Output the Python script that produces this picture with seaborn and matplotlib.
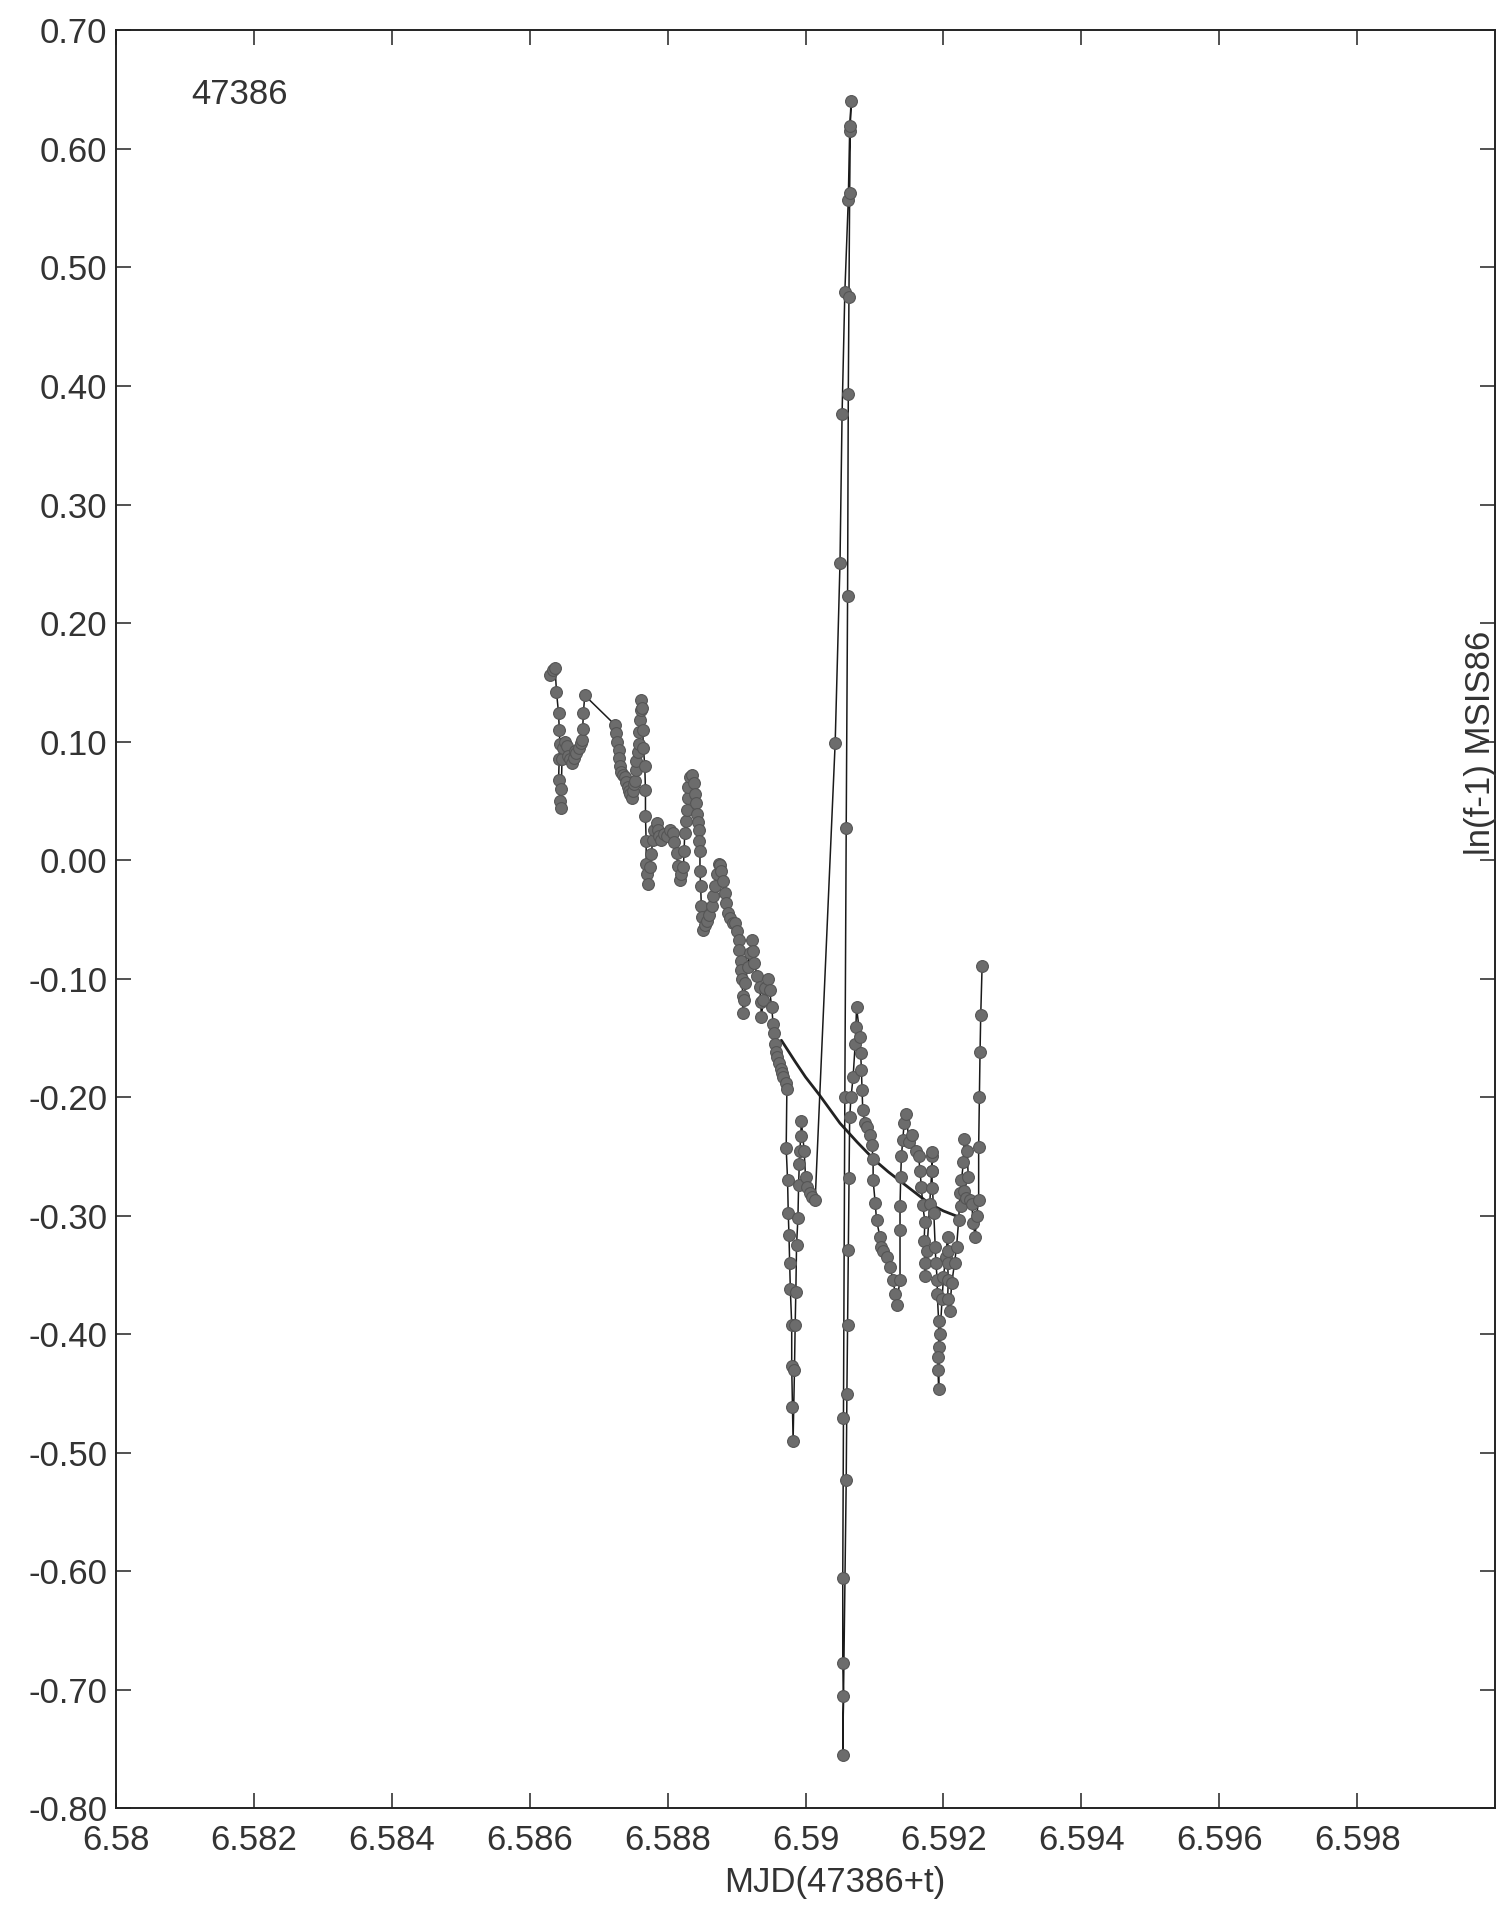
import numpy as np
import pandas as pd
import matplotlib
matplotlib.use('Agg')
import matplotlib.pyplot as plt
import seaborn as sns

# measured series (MJD offset from 47386, ln(f-1))
t = [6.58630, 6.58634, 6.58637, 6.58639, 6.58642, 6.58643, 6.58644, 6.58643, 6.58642, 6.58644,
     6.58645, 6.58646, 6.58647, 6.58649, 6.58651, 6.58654, 6.58656, 6.58658, 6.58661, 6.58664,
     6.58666, 6.58668, 6.58671, 6.58674, 6.58676, 6.58677, 6.58678, 6.58680,
     6.58724, 6.58726, 6.58727, 6.58729, 6.58730, 6.58731, 6.58733, 6.58735, 6.58738, 6.58740,
     6.58742, 6.58744, 6.58746, 6.58748, 6.58750, 6.58752, 6.58753, 6.58754, 6.58755, 6.58757,
     6.58758, 6.58759, 6.58760, 6.58761, 6.58762, 6.58763, 6.58764, 6.58765, 6.58767, 6.58768,
     6.58768, 6.58769, 6.58769, 6.58770, 6.58772, 6.58774, 6.58776, 6.58779, 6.58781, 6.58784,
     6.58786, 6.58788, 6.58791, 6.58795, 6.58799, 6.58803, 6.58808, 6.58810, 6.58813, 6.58815,
     6.58818, 6.58820, 6.58823, 6.58824, 6.58825, 6.58827, 6.58828, 6.58829, 6.58830, 6.58832,
     6.58835, 6.58838, 6.58840, 6.58841, 6.58842, 6.58844, 6.58845, 6.58846, 6.58847, 6.58847,
     6.58848, 6.58849, 6.58850, 6.58852, 6.58855, 6.58857, 6.58860, 6.58864, 6.58866, 6.58869,
     6.58871, 6.58874, 6.58876, 6.58878, 6.58880, 6.58883, 6.58885, 6.58888, 6.58891, 6.58895,
     6.58898, 6.58900, 6.58903, 6.58904, 6.58906, 6.58907, 6.58908, 6.58909, 6.58909, 6.58911,
     6.58913, 6.58916, 6.58919, 6.58922, 6.58924, 6.58926, 6.58930, 6.58934, 6.58935, 6.58936,
     6.58939, 6.58942, 6.58946, 6.58948, 6.58951, 6.58953, 6.58955, 6.58956, 6.58957, 6.58959,
     6.58961, 6.58964, 6.58966, 6.58968, 6.58971, 6.58973,
     6.58972, 6.58974, 6.58975, 6.58976, 6.58977, 6.58978, 6.58980, 6.58980, 6.58981, 6.58982,
     6.58984, 6.58985, 6.58986, 6.58987, 6.58989, 6.58990, 6.58991, 6.58992, 6.58993, 6.58994,
     6.58998, 6.59000, 6.59002, 6.59006, 6.59009, 6.59014,
     6.59043, 6.59050, 6.59053, 6.59057, 6.59062, 6.59064, 6.59066,
     6.59065, 6.59064, 6.59063, 6.59062, 6.59061, 6.59059, 6.59057, 6.59055,
     6.59054, 6.59054, 6.59055, 6.59054,
     6.59059, 6.59060, 6.59061, 6.59062, 6.59063, 6.59064, 6.59066,
     6.59069, 6.59072, 6.59073, 6.59074, 6.59079, 6.59080, 6.59081, 6.59082, 6.59083,
     6.59086, 6.59089, 6.59093, 6.59096, 6.59098, 6.59098, 6.59101, 6.59103, 6.59108, 6.59110,
     6.59113, 6.59118, 6.59122, 6.59127, 6.59130, 6.59132,
     6.59137, 6.59137, 6.59137, 6.59138, 6.59139, 6.59141, 6.59143, 6.59146,
     6.59150, 6.59155, 6.59160, 6.59164, 6.59166, 6.59168, 6.59170, 6.59173, 6.59172, 6.59173,
     6.59173, 6.59176, 6.59180, 6.59183, 6.59184, 6.59184, 6.59183, 6.59184, 6.59186, 6.59188,
     6.59189, 6.59191, 6.59191, 6.59193, 6.59193, 6.59192, 6.59192, 6.59193,
     6.59195, 6.59198, 6.59200, 6.59203, 6.59206, 6.59207, 6.59206, 6.59207, 6.59206, 6.59209,
     6.59212, 6.59216, 6.59219, 6.59222, 6.59224, 6.59226, 6.59229, 6.59230, 6.59234, 6.59236,
     6.59230, 6.59226, 6.59233, 6.59238, 6.59241, 6.59243, 6.59246, 6.59248, 6.59251,
     6.59251, 6.59252, 6.59253, 6.59254, 6.59256]
lnf = [0.156, 0.160, 0.162, 0.142, 0.124, 0.110, 0.098, 0.085, 0.068, 0.050,
       0.044, 0.060, 0.085, 0.095, 0.100, 0.096, 0.088, 0.085, 0.082, 0.086,
       0.092, 0.090, 0.095, 0.099, 0.101, 0.111, 0.124, 0.139,
       0.114, 0.107, 0.100, 0.093, 0.086, 0.079, 0.074, 0.072, 0.070, 0.066,
       0.062, 0.058, 0.056, 0.052, 0.058, 0.064, 0.067, 0.076, 0.084, 0.091,
       0.098, 0.108, 0.118, 0.127, 0.135, 0.128, 0.110, 0.095, 0.079, 0.059,
       0.037, 0.016, -0.003, -0.012, -0.020, -0.006, 0.005, 0.017, 0.025, 0.031,
       0.025, 0.020, 0.017, 0.022, 0.020, 0.025, 0.023, 0.015, 0.006, -0.005,
       -0.017, -0.012, -0.006, 0.008, 0.023, 0.033, 0.042, 0.052, 0.062, 0.070,
       0.072, 0.065, 0.056, 0.048, 0.039, 0.032, 0.025, 0.016, 0.008, -0.009,
       -0.022, -0.039, -0.048, -0.059, -0.055, -0.051, -0.046, -0.039, -0.030, -0.022,
       -0.012, -0.003, -0.004, -0.009, -0.018, -0.028, -0.036, -0.045, -0.049, -0.053,
       -0.053, -0.060, -0.067, -0.076, -0.085, -0.093, -0.100, -0.115, -0.129, -0.118,
       -0.104, -0.090, -0.078, -0.067, -0.077, -0.087, -0.098, -0.107, -0.120, -0.132,
       -0.118, -0.108, -0.100, -0.110, -0.124, -0.138, -0.146, -0.155, -0.162, -0.166,
       -0.171, -0.176, -0.180, -0.183, -0.188, -0.193,
       -0.243, -0.270, -0.298, -0.316, -0.340, -0.362, -0.392, -0.427, -0.461, -0.490,
       -0.430, -0.392, -0.364, -0.325, -0.302, -0.274, -0.256, -0.245, -0.233, -0.220,
       -0.245, -0.267, -0.276, -0.281, -0.284, -0.287,
       0.099, 0.251, 0.376, 0.479, 0.557, 0.615, 0.640,
       0.619, 0.563, 0.475, 0.393, 0.223, 0.027, -0.200, -0.471,
       -0.606, -0.677, -0.705, -0.755,
       -0.523, -0.450, -0.392, -0.329, -0.268, -0.217, -0.200,
       -0.183, -0.155, -0.141, -0.124, -0.149, -0.163, -0.177, -0.194, -0.211,
       -0.222, -0.225, -0.232, -0.240, -0.252, -0.270, -0.289, -0.304, -0.318, -0.326,
       -0.330, -0.335, -0.343, -0.354, -0.366, -0.375,
       -0.354, -0.312, -0.292, -0.267, -0.250, -0.236, -0.222, -0.214,
       -0.238, -0.232, -0.245, -0.250, -0.262, -0.276, -0.291, -0.305, -0.321, -0.340,
       -0.351, -0.330, -0.290, -0.262, -0.250, -0.246, -0.262, -0.277, -0.298, -0.326,
       -0.340, -0.354, -0.366, -0.389, -0.411, -0.419, -0.430, -0.446,
       -0.400, -0.370, -0.352, -0.335, -0.318, -0.330, -0.340, -0.354, -0.370, -0.380,
       -0.357, -0.340, -0.326, -0.304, -0.281, -0.270, -0.255, -0.235, -0.245, -0.267,
       -0.279, -0.292, -0.285, -0.287, -0.290, -0.306, -0.318, -0.300, -0.287,
       -0.242, -0.200, -0.162, -0.131, -0.089]

# MSIS86 model curve
model_t = [6.58965, 6.58985, 6.59000, 6.59020, 6.59050, 6.59075, 6.59100, 6.59120, 6.59140,
           6.59160, 6.59180, 6.59200, 6.59222]
model_lnf = [-0.152, -0.170, -0.183, -0.198, -0.222, -0.238, -0.253, -0.263, -0.272,
             -0.281, -0.290, -0.296, -0.301]

xticks = [6.58, 6.582, 6.584, 6.586, 6.588, 6.59, 6.592, 6.594, 6.596, 6.598]
xtick_labels = ['6.58', '6.582', '6.584', '6.586', '6.588', '6.59', '6.592', '6.594', '6.596', '6.598']
yticks = [0.70, 0.60, 0.50, 0.40, 0.30, 0.20, 0.10, 0.00, -0.10, -0.20, -0.30, -0.40,
          -0.50, -0.60, -0.70, -0.80]

df = pd.DataFrame({'t': t, 'lnf': lnf})
mdf = pd.DataFrame({'t': model_t, 'lnf': model_lnf})

sns.set_theme(style='ticks')
plt.rcParams['font.family'] = ['Liberation Sans', 'DejaVu Sans']
plt.rcParams['axes.unicode_minus'] = False

fig = plt.figure(figsize=(15.1, 19.1), dpi=100)
ax = fig.add_axes([0.0766, 0.0532, 0.9137, 0.9309])

sns.lineplot(data=mdf, x='t', y='lnf', ax=ax, sort=False, estimator=None,
             color='#222222', linewidth=2.0)
sns.lineplot(data=df, x='t', y='lnf', ax=ax, sort=False, estimator=None,
             color='#1a1a1a', linewidth=1.1, marker='o', markersize=8.5,
             markerfacecolor='#6c6c6c', markeredgecolor='#555555', markeredgewidth=0.8)

ax.set_xlim(6.58, 6.60)
ax.set_ylim(-0.80, 0.70)
ax.set_xticks(xticks)
ax.set_xticklabels(xtick_labels)
ax.set_yticks(yticks)
ax.set_yticklabels(['%.2f' % v for v in yticks])

for s in ax.spines.values():
    s.set_visible(True)
    s.set_linewidth(1.4)
    s.set_color('#222222')
ax.tick_params(axis='both', direction='in', length=11, width=1.1, colors='#222222',
               labelsize=25, labelcolor='#333333', top=True, right=True)
ax.tick_params(axis='x', pad=11)
ax.tick_params(axis='y', pad=6)

ax.set_xlabel('MJD(47386+t)', fontsize=25, color='#333333', labelpad=7)
ax.xaxis.label.set_x(0.521)
ax.set_ylabel('')
ax.text(0.989, 0.599, 'ln(f-1) MSIS86', transform=ax.transAxes, rotation=90,
        ha='center', va='center', fontsize=25, color='#333333')
ax.text(0.055, 0.973, '47386', transform=ax.transAxes, ha='left', va='top',
        fontsize=25, color='#333333')

fig.savefig('out.png', dpi=100, facecolor='white')
